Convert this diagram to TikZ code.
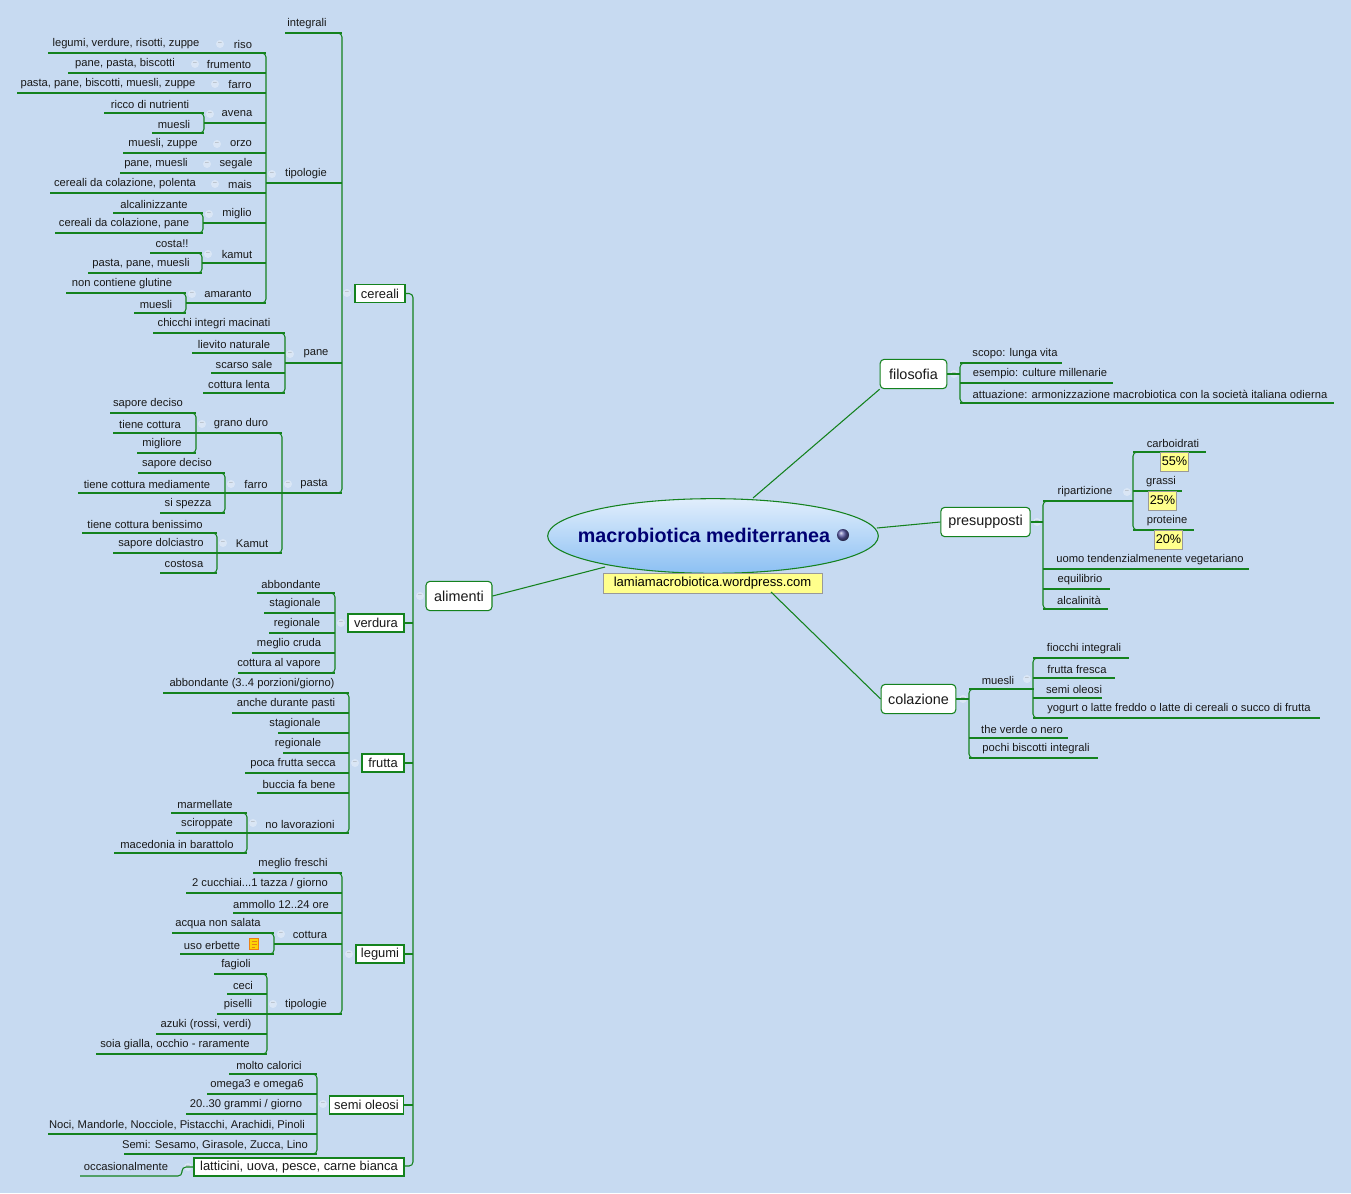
\documentclass[tikz,border=0pt]{standalone}
\usepackage{fontspec}
\setmainfont{Liberation Sans}
\usetikzlibrary{shapes.geometric}
\definecolor{bg}{RGB}{199,218,241}
\definecolor{ln}{RGB}{20,130,30}
\definecolor{tx}{RGB}{25,25,25}
\definecolor{yl}{RGB}{255,255,140}
\definecolor{elt}{RGB}{225,238,252}
\definecolor{elb}{RGB}{140,192,243}
\tikzset{
 ln/.style={draw=ln,line width=0.8pt},
 tx/.style={text=tx,font=\fontsize{8.4}{9}\selectfont,inner sep=0pt},
 box/.style={draw=ln,line width=0.8pt,fill=white,text=tx,font=\fontsize{9.7}{11}\selectfont,inner sep=0pt,minimum height=13.5pt},
 rbox/.style={box,rounded corners=3pt,minimum height=22pt,font=\fontsize{10.8}{12}\selectfont},
 pct/.style={draw=black!40,fill=yl,text=black,font=\fontsize{9.5}{10}\selectfont,inner sep=0pt,minimum width=21pt,minimum height=14pt},
 mn/.style={circle,fill=white,fill opacity=0.35,text opacity=0.7,text=gray,inner sep=0pt,minimum size=6pt,font=\fontsize{5}{5}\selectfont}
}
\newcommand\lf[5]{\draw[ln] (#1,#3) -- (#2,#3); \node[tx] at (#4,#3-9) {#5};}
\newcommand\bl[3]{\draw[ln,rounded corners=3] (#1-5,#2) -- (#1,#2) -- (#1,#3) -- (#1-5,#3);}
\newcommand\brr[3]{\draw[ln,rounded corners=3] (#1+5,#2) -- (#1,#2) -- (#1,#3) -- (#1+5,#3);}
\newcommand\mm[2]{\node[mn] at (#1,#2) {--};}
\begin{document}
\begin{tikzpicture}[x=0.75pt,y=-0.75pt]
\useasboundingbox (0,0) rectangle (1351,1193);
\fill[bg] (0,0) rectangle (1351,1193);
% ---------- cereali ----------
\lf{285}{342}{33}{307}{integrali}
\bl{342}{33}{493}
\lf{266}{342}{183}{306}{tipologie}\mm{272}{174}
\bl{266}{53}{303}
\lf{48}{266}{53}{126}{legumi, verdure, risotti, zuppe}\node[tx] at (243,44){riso};\mm{220}{44}
\lf{68}{266}{73}{125}{pane, pasta, biscotti}\node[tx] at (229,64){frumento};\mm{195}{64}
\lf{17}{266}{93}{108}{pasta, pane, biscotti, muesli, zuppe}\node[tx] at (240,84){farro};\mm{215}{84}
\lf{104}{204}{113}{150}{ricco di nutrienti}\lf{152}{204}{133}{174}{muesli}\bl{204}{113}{133}
\lf{204}{266}{123}{237}{avena}\mm{210}{114}
\lf{123}{266}{153}{163}{muesli, zuppe}\node[tx] at (241,144){orzo};\mm{217}{144}
\lf{120}{266}{173}{156}{pane, muesli}\node[tx] at (236,164){segale};\mm{207}{164}
\lf{50}{266}{193}{125}{cereali da colazione, polenta}\node[tx] at (240,184){mais};\mm{215}{184}
\lf{113}{203}{213}{154}{alcalinizzante}\lf{55}{203}{233}{124}{cereali da colazione, pane}\bl{203}{213}{233}
\lf{203}{266}{223}{237}{miglio}\mm{209}{214}
\lf{150}{202}{253}{172}{costa!!}\lf{88}{202}{273}{141}{pasta, pane, muesli}\bl{202}{253}{273}
\lf{202}{266}{263}{237}{kamut}\mm{208}{254}
\lf{66}{186}{293}{122}{non contiene glutine}\lf{134}{186}{313}{156}{muesli}\bl{186}{293}{313}
\lf{186}{266}{303}{228}{amaranto}\mm{192}{294}
% pane
\lf{285}{342}{363}{316}{pane}\mm{290}{354}
\bl{285}{333}{393}
\lf{153}{285}{333}{214}{chicchi integri macinati}
\lf{192}{285}{353}{234}{lievito naturale}
\lf{211}{285}{373}{244}{scarso sale}
\lf{203}{285}{393}{239}{cottura lenta}
% pasta
\lf{282}{342}{493}{314}{pasta}\mm{288}{484}
\bl{282}{433}{553}
\lf{196}{282}{433}{241}{grano duro}\mm{202}{424}
\bl{196}{413}{453}
\lf{110}{196}{413}{148}{sapore deciso}
\lf{113}{196}{433}{150}{tiene cottura}
\lf{137}{196}{453}{162}{migliore}
\lf{225}{282}{493}{256}{farro}\mm{231}{484}
\bl{225}{473}{513}
\lf{138}{225}{473}{177}{sapore deciso}
\lf{78}{225}{493}{147}{tiene cottura mediamente}
\lf{160}{225}{513}{188}{si spezza}
\lf{217}{282}{553}{252}{Kamut}\mm{223}{543}
\bl{217}{533}{573}
\lf{82}{217}{533}{145}{tiene cottura benissimo}
\lf{113}{217}{553}{161}{sapore dolciastro}
\lf{160}{217}{573}{184}{costosa}
\node[box,minimum width=37.5pt] (cereali) at (380,293.5) {cereali};\mm{347}{293}
% ---------- alimenti spine ----------
\draw[ln,rounded corners=3] (cereali.east) -- (413,293.5) -- (413,1166) -- (404,1166);
% verdura
\node[box,minimum width=42pt] (verdura) at (376,623) {verdura};\mm{341}{623}
\draw[ln] (verdura.east) -- (413,623);
\bl{335}{593}{673}
\lf{257}{335}{593}{291}{abbondante}
\lf{264}{335}{613}{295}{stagionale}
\lf{269}{335}{633}{297}{regionale}
\lf{252}{335}{653}{289}{meglio cruda}
\lf{238}{335}{673}{279}{cottura al vapore}
% frutta
\node[box,minimum width=31.5pt] (frutta) at (383,763) {frutta};\mm{355}{763}
\draw[ln] (frutta.east) -- (413,763);
\bl{349}{693}{833}
\lf{163}{349}{693}{252}{abbondante (3..4 porzioni/giorno)}
\lf{232}{349}{713}{286}{anche durante pasti}
\lf{278}{349}{733}{295}{stagionale}
\lf{283}{349}{753}{298}{regionale}
\lf{245}{349}{773}{293}{poca frutta secca}
\lf{257}{349}{793}{299}{buccia fa bene}
\lf{247}{349}{833}{300}{no lavorazioni}\mm{253}{823}
\bl{247}{813}{853}
\lf{171}{247}{813}{205}{marmellate}
\lf{176}{247}{833}{207}{sciroppate}
\lf{114}{247}{853}{177}{macedonia in barattolo}
% legumi
\node[box,minimum width=36pt] (legumi) at (380,954) {legumi};\mm{349}{954}
\draw[ln] (legumi.east) -- (413,954);
\bl{342}{873}{1014}
\lf{253}{342}{873}{293}{meglio freschi}
\lf{186}{342}{893}{260}{2 cucchiai...1 tazza / giorno}
\lf{233}{342}{913}{281}{ammollo 12..24 ore}
\lf{274}{342}{944}{310}{cottura}\mm{281}{934}
\bl{274}{933}{954}
\lf{172}{274}{933}{218}{acqua non salata}
\lf{180}{274}{954}{212}{uso erbette}
\node[draw=orange!70!brown,fill=yellow!70!orange,minimum width=6.5pt,minimum height=8pt,inner sep=0pt] (note) at (254,944) {};
\draw[orange!60!brown,line width=0.3pt] (251.5,941)--(256.5,941) (251.5,944)--(256.5,944) (251.5,947)--(255,947);
\lf{266}{342}{1014}{306}{tipologie}\mm{273}{1004}
\bl{267}{974}{1054}
\lf{214}{267}{974}{236}{fagioli}
\lf{227}{267}{994}{243}{ceci}
\lf{217}{267}{1014}{238}{piselli}
\lf{156}{267}{1034}{206}{azuki (rossi, verdi)}
\lf{96}{267}{1054}{175}{soia gialla, occhio - raramente}
% semi oleosi
\node[box,minimum width=56pt] (semi) at (366.5,1105) {semi oleosi};\mm{323}{1104}
\draw[ln] (semi.east) -- (413,1105);
\bl{317}{1074}{1154}
\lf{229}{317}{1074}{269}{molto calorici}
\lf{207}{317}{1094}{257}{omega3 e omega6}
\lf{186}{317}{1114}{246}{20..30 grammi / giorno}
\lf{48}{317}{1134}{177}{Noci, Mandorle, Nocciole, Pistacchi, Arachidi, Pinoli}
\lf{124}{317}{1154}{215}{Semi: Sesamo, Girasole, Zucca, Lino}
% latticini
\node[box,minimum width=157.5pt] (latt) at (299,1167) {latticini, uova, pesce, carne bianca};\mm{188}{1167}
\draw[ln,rounded corners=3] (80,1176) -- (182,1176) -- (182,1167) -- (latt.west);
\node[tx] at (126,1166) {occasionalmente};
% alimenti
\node[rbox,minimum width=49.5pt] (alimenti) at (459,596) {alimenti};\mm{420}{596}
% ---------- centre ----------
\node[ellipse,draw=ln,line width=0.8pt,top color=elt,bottom color=elb,minimum width=248pt,minimum height=56pt,inner sep=0pt] (root) at (713,536) {};
\node[text=blue!45!black,font=\bfseries\fontsize{14.8}{16}\selectfont] at (704,535) {macrobiotica mediterranea};
\shade[ball color=blue!30!gray] (843,535) circle (4.5pt);
\node[draw=black!40,fill=yl,text=black,font=\fontsize{9.8}{11}\selectfont,inner sep=0pt,minimum width=164pt,minimum height=15pt] (url) at (712.5,583) {lamiamacrobiotica.wordpress.com};
\draw[ln] (alimenti.east) -- (605,567);
% ---------- filosofia ----------
\node[rbox,minimum width=50pt] (filo) at (913.5,374) {filosofia};\mm{954}{374}
\draw[ln] (753,498) -- (filo.south west);
\brr{960}{363}{403}\draw[ln] (filo.east) -- (960,374);
\lf{960}{1062}{363}{1015}{scopo: lunga vita}
\lf{960}{1113}{383}{1040}{esempio: culture millenarie}
\lf{960}{1334}{403}{1150}{attuazione: armonizzazione macrobiotica con la società italiana odierna}
% ---------- presupposti ----------
\node[rbox,minimum width=67pt] (pres) at (985.5,522) {presupposti};\mm{1037}{522}
\draw[ln] (root.east) ++(-2,-8) -- (pres.west);
\brr{1043}{501}{609}\draw[ln] (pres.east) -- (1043,522);
\lf{1043}{1133}{501}{1085}{ripartizione}\mm{1127}{492}
\brr{1133}{452}{530}
\lf{1133}{1206}{452}{1173}{carboidrati}\node[pct] (p1) at (1174.5,461.5) {55\%};
\lf{1133}{1182}{491}{1161}{grassi}\node[pct] (p2) at (1162.5,500.5) {25\%};
\lf{1133}{1194}{530}{1167}{proteine}\node[pct] (p3) at (1168.5,539.5) {20\%};
\lf{1043}{1249}{569}{1150}{uomo tendenzialmenente vegetariano}
\lf{1043}{1110}{589}{1080}{equilibrio}
\lf{1043}{1108}{609}{1079}{alcalinità}
% ---------- colazione ----------
\node[rbox,minimum width=56pt] (col) at (918.5,699) {colazione};\mm{963}{699}
\draw[ln] (771,592) -- (col.west);
\brr{969}{689}{758}\draw[ln] (col.east) -- (969,699);
\lf{969}{1034}{689}{998}{muesli}\mm{1027}{679}
\brr{1033}{658}{718}
\lf{1033}{1129}{658}{1084}{fiocchi integrali}
\lf{1033}{1115}{678}{1077}{frutta fresca}
\lf{1033}{1102}{698}{1074}{semi oleosi}
\lf{1033}{1320}{718}{1179}{yogurt o latte freddo o latte di cereali o succo di frutta}
\lf{969}{1068}{738}{1022}{the verde o nero}
\lf{969}{1098}{758}{1036}{pochi biscotti integrali}
\end{tikzpicture}
\end{document}
